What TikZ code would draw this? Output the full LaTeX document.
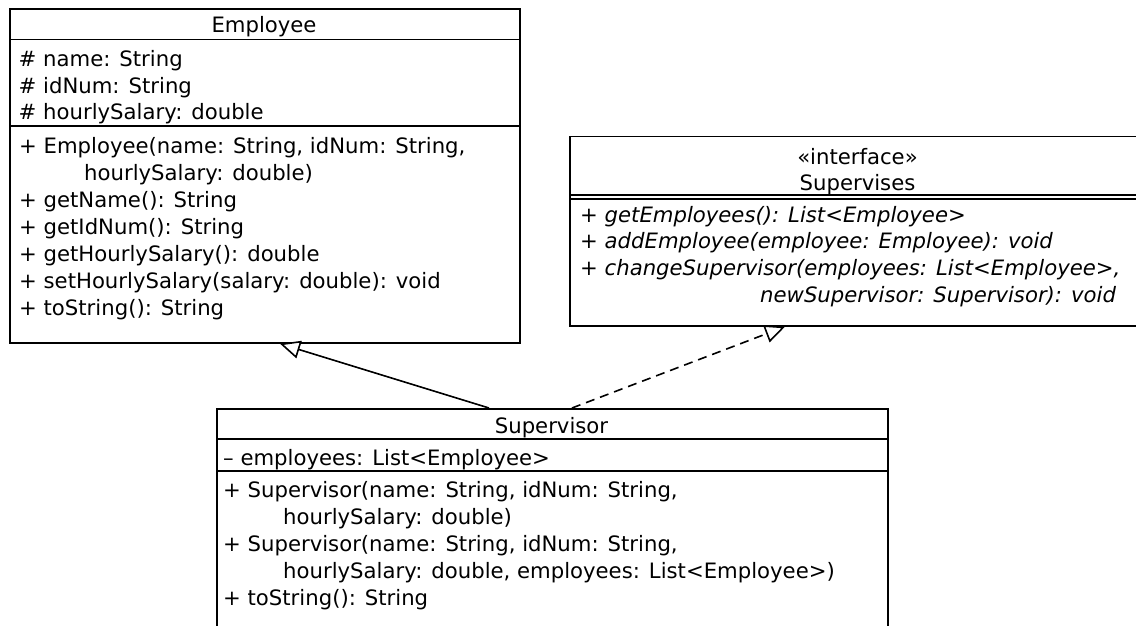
\documentclass[tikz,border=0pt]{standalone}
\usepackage{fontspec}
\setmainfont{DejaVu Sans}
\usetikzlibrary{arrows.meta}
\begin{document}
\begin{tikzpicture}[x=1pt,y=-1pt,
  box/.style={draw, line width=1.7pt, rectangle, inner sep=0pt, anchor=north west},
  sepline/.style={line width=1.6pt},
  txt/.style={anchor=base west, inner sep=0pt, font=\fontsize{21.2}{25}\selectfont},
  ttl/.style={anchor=base, inner sep=0pt, font=\fontsize{21.2}{25}\selectfont},
  itxt/.style={anchor=base west, inner sep=0pt, font=\fontsize{21.2}{25}\selectfont\itshape},
  gen/.style={line width=1.6pt, -{Triangle[open, length=20pt, width=18pt, fill=white]}},
  real/.style={gen, dash pattern=on 9pt off 6pt}
]
\clip (0,0) rectangle (1136,626);
\fill[white] (0,0) rectangle (1136,626);

% ---------- Employee ----------
\node[box, minimum width=510pt, minimum height=334pt] (emp) at (9,8) {};
\draw[sepline] ([yshift=-31.5pt]emp.north west) -- ([yshift=-31.5pt]emp.north east);
\draw[sepline] ([yshift=-118pt]emp.north west) -- ([yshift=-118pt]emp.north east);
\node[ttl] (empt) at (264,33) {Employee};
\node[txt] (ea1) at (18.5,66.5) {\# name: String};
\node[txt] (ea2) at (18.5,93.3) {\# idNum: String};
\node[txt] (ea3) at (18.5,120) {\# hourlySalary: double};
\node[txt] (em1) at (19,153) {+ Employee(name: String, idNum: String,};
\node[txt] (em1b) at (84,180) {hourlySalary: double)};
\node[txt] (em2) at (19,207) {+ getName(): String};
\node[txt] (em3) at (19,234) {+ getIdNum(): String};
\node[txt] (em4) at (19,261) {+ getHourlySalary(): double};
\node[txt] (em5) at (19,288) {+ setHourlySalary(salary: double): void};
\node[txt] (em6) at (19,315) {+ toString(): String};

% ---------- Supervises ----------
\node[box, minimum width=577pt, minimum height=189.5pt] (ifc) at (569,135.5) {};
\draw[sepline] ([yshift=-59.5pt]ifc.north west) -- ([yshift=-59.5pt]ifc.north east);
\draw[sepline] ([yshift=-63.5pt]ifc.north west) -- ([yshift=-63.5pt]ifc.north east);
\node[ttl] (ifcs) at (857.5,164.5) {«interface»};
\node[ttl] (ifct) at (857.5,190) {Supervises};
\node[itxt] (im1) at (580,222) {+ getEmployees(): List<Employee>};
\node[itxt] (im2) at (580,248.5) {+ addEmployee(employee: Employee): void};
\node[itxt] (im3) at (580,275) {+ changeSupervisor(employees: List<Employee>,};
\node[itxt] (im3b) at (760,302) {newSupervisor: Supervisor): void};

% ---------- Supervisor ----------
\node[box, minimum width=671pt, minimum height=240pt] (sup) at (216,408) {};
\draw[sepline] ([yshift=-31pt]sup.north west) -- ([yshift=-31pt]sup.north east);
\draw[sepline] ([yshift=-63pt]sup.north west) -- ([yshift=-63pt]sup.north east);
\node[ttl] (supt) at (551.5,433) {Supervisor};
\node[txt] (sa1) at (223,465) {– employees: List<Employee>};
\node[txt] (sm1) at (223,497) {+ Supervisor(name: String, idNum: String,};
\node[txt] (sm1b) at (283,524) {hourlySalary: double)};
\node[txt] (sm2) at (223,551) {+ Supervisor(name: String, idNum: String,};
\node[txt] (sm2b) at (283,578) {hourlySalary: double, employees: List<Employee>)};
\node[txt] (sm3) at (223,605) {+ toString(): String};

% ---------- Relations ----------
\draw[gen] ([xshift=273pt]sup.north west) -- ([xshift=271pt]emp.south west);
\draw[real] ([xshift=356pt]sup.north west) -- ([xshift=216pt]ifc.south west);
\end{tikzpicture}
\end{document}
